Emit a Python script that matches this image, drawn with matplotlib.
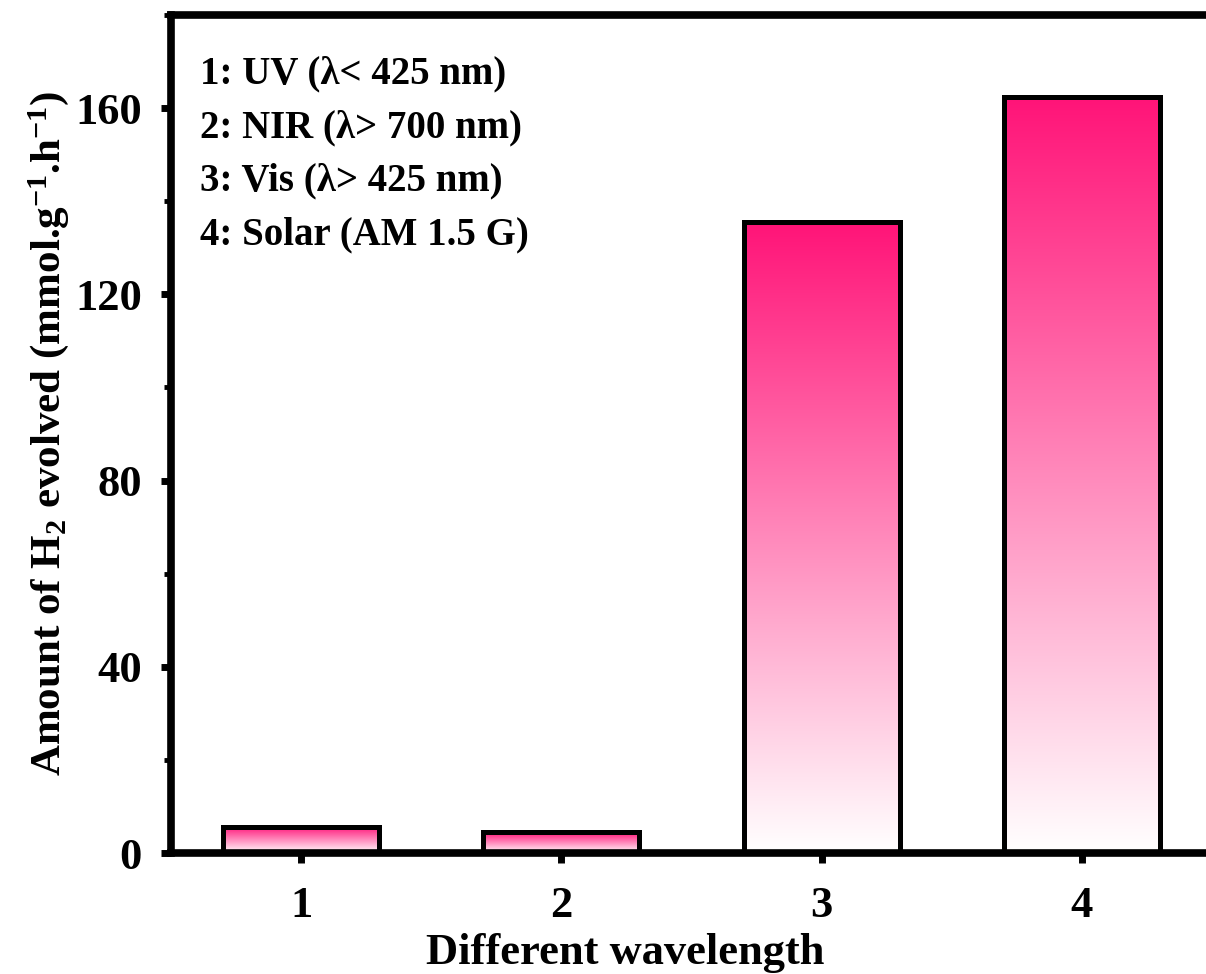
import numpy as np
import matplotlib
matplotlib.use("Agg")
import matplotlib.pyplot as plt
from matplotlib.ticker import MultipleLocator
from matplotlib.colors import LinearSegmentedColormap

categories = [1, 2, 3, 4]
h2_rates = [5.6, 4.5, 135.5, 162.3]
tick_labels = ["1", "2", "3", "4"]
legend_lines = [
    "1: UV (\u03bb< 425 nm)",
    "2: NIR (\u03bb> 700 nm)",
    "3: Vis (\u03bb> 425 nm)",
    "4: Solar (AM 1.5 G)",
]

plt.rcParams["font.family"] = ["Liberation Serif", "DejaVu Serif"]
plt.rcParams["font.weight"] = "bold"
plt.rcParams["mathtext.fontset"] = "custom"
plt.rcParams["mathtext.rm"] = "Liberation Serif:bold"
plt.rcParams["mathtext.it"] = "Liberation Serif:bold"
plt.rcParams["mathtext.bf"] = "Liberation Serif:bold"

fig = plt.figure(figsize=(12.06, 9.74), dpi=100)
ax = fig.add_axes([0.1418, 0.1242, 0.8632, 0.8604])

cmap = LinearSegmentedColormap.from_list("pinkfade", ["#ffffff", "#ff1478"])
grad = np.linspace(0, 1, 256).reshape(-1, 1)

bars = ax.bar(categories, h2_rates, width=0.6, facecolor="none",
              edgecolor="black", linewidth=3.6, zorder=3)
for bar in bars:
    x0, y0 = bar.get_x(), bar.get_y()
    w, h = bar.get_width(), bar.get_height()
    im = ax.imshow(grad, cmap=cmap, aspect="auto", origin="lower",
                   extent=[x0, x0 + w, y0, y0 + h], zorder=2,
                   interpolation="bilinear")
    im.set_clip_path(bar)

ax.set_xlim(0.5, 4.5)
ax.set_ylim(0, 180)
ax.set_xticks(categories)
ax.set_xticklabels(tick_labels)
ax.yaxis.set_major_locator(MultipleLocator(40))
ax.yaxis.set_minor_locator(MultipleLocator(20))

for side in ["left", "bottom", "top"]:
    ax.spines[side].set_linewidth(5.5)
ax.spines["right"].set_visible(False)

ax.tick_params(axis="both", which="major", direction="out", length=7,
               width=5, labelsize=32)
ax.tick_params(axis="y", which="minor", direction="out", length=5, width=3.5)
ax.tick_params(axis="x", which="minor", bottom=False)
ax.tick_params(axis="x", pad=17)
ax.tick_params(axis="y", pad=14)
for lbl in ax.get_xticklabels() + ax.get_yticklabels():
    lbl.set_fontweight("bold")

ax.set_xlabel("Different wavelength", fontsize=32, fontweight="bold")
ax.xaxis.set_label_coords(0.436, -0.096)
ax.set_ylabel("Amount of H$_2$ evolved (mmol.g$^{-1}$.h$^{-1}$)",
              fontsize=31, fontweight="bold")
ax.yaxis.set_label_coords(-0.096, 0.501)

ax.text(0.028, 0.952, "\n".join(legend_lines), transform=ax.transAxes,
        fontsize=28, fontweight="bold", va="top", ha="left",
        linespacing=1.6)

fig.savefig("out.png", dpi=100)
